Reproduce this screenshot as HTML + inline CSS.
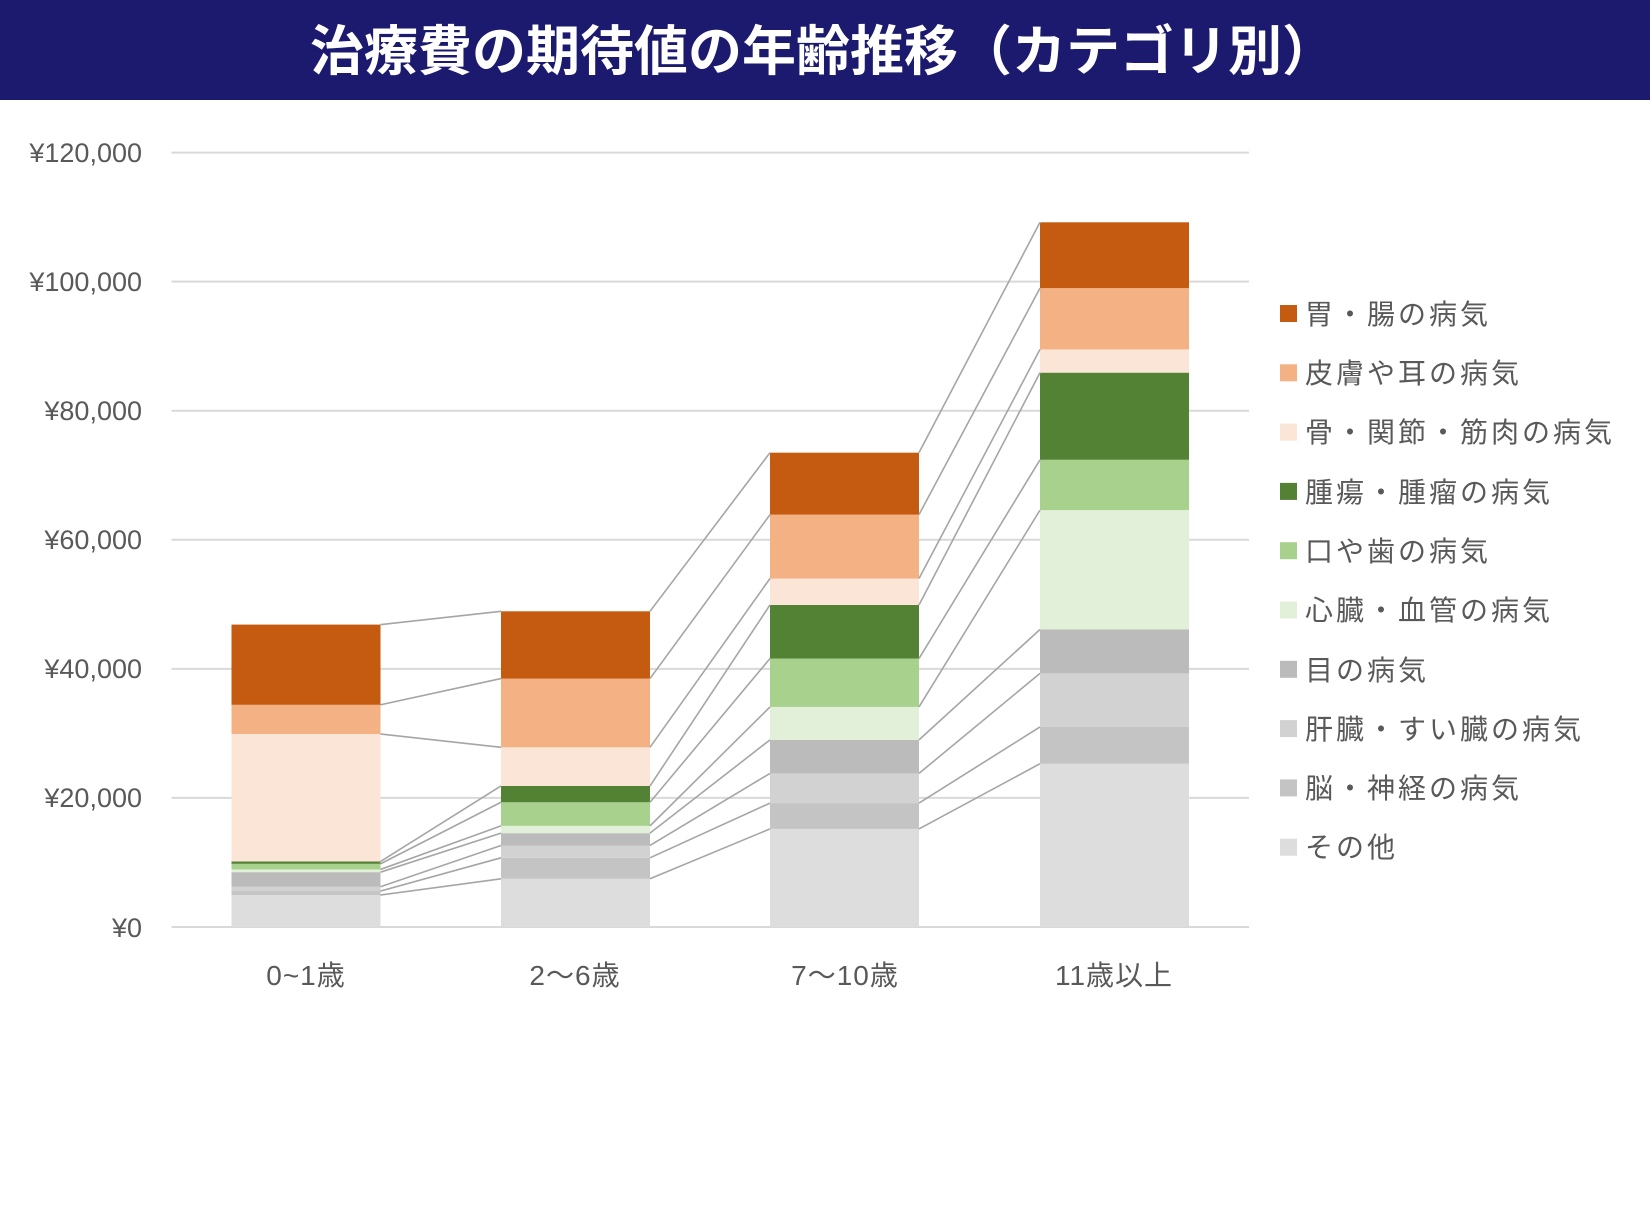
<!DOCTYPE html>
<html><head><meta charset="utf-8"><style>
html,body{margin:0;padding:0;background:#fff;}
svg{display:block;}
text{font-family:"Liberation Sans","Noto Sans CJK JP",sans-serif;}
</style></head><body>
<svg id="c" width="1650" height="1217" viewBox="0 0 1650 1217" xmlns="http://www.w3.org/2000/svg">
<rect x="0" y="0" width="1650" height="100" fill="#1B1A6E"/>
<text x="823" y="70" font-size="54" font-weight="bold" fill="#fff" text-anchor="middle" style="font-family:'Noto Sans CJK JP',sans-serif">治療費の期待値の年齢推移（カテゴリ別）</text>
<g id="grid" stroke="#D9D9D9" stroke-width="2"></g>
<g id="bars"></g>
<g id="lines" stroke="#A5A5A5" stroke-width="1.6" fill="none"></g>
<g font-size="27" fill="#595959" text-anchor="end">
<text x="142" y="162">¥120,000</text>
<text x="142" y="291">¥100,000</text>
<text x="142" y="420">¥80,000</text>
<text x="142" y="549">¥60,000</text>
<text x="142" y="678">¥40,000</text>
<text x="142" y="807">¥20,000</text>
<text x="142" y="937">¥0</text>
</g>
<g font-size="28" fill="#595959" text-anchor="middle" letter-spacing="1">
<text x="306" y="985">0~1歳</text>
<text x="575" y="985">2〜6歳</text>
<text x="845" y="985">7〜10歳</text>
<text x="1114" y="985">11歳以上</text>
</g>
<g id="leg"></g>
<g font-size="28" fill="#595959" letter-spacing="3">
<text x="1305" y="324">胃・腸の病気</text>
<text x="1305" y="383">皮膚や耳の病気</text>
<text x="1305" y="442">骨・関節・筋肉の病気</text>
<text x="1305" y="502">腫瘍・腫瘤の病気</text>
<text x="1305" y="561">口や歯の病気</text>
<text x="1305" y="620">心臓・血管の病気</text>
<text x="1305" y="680">目の病気</text>
<text x="1305" y="739">肝臓・すい臓の病気</text>
<text x="1305" y="798">脳・神経の病気</text>
<text x="1305" y="857">その他</text>
</g>
</svg>
<script>
const NS="http://www.w3.org/2000/svg";
function el(p,t,a){const e=document.createElementNS(NS,t);for(const k in a)e.setAttribute(k,a[k]);document.getElementById(p).appendChild(e);return e;}
const Y=v=>927-v*(927-152.6)/120000;
for(let i=0;i<=6;i++){const y=Y(i*20000);el('grid','line',{x1:171.5,x2:1249,y1:y,y2:y});}
const cols=["#DDDDDD","#C4C4C4","#D2D2D2","#BBBBBB","#E2F0D9","#A9D18E","#548235","#FBE5D6","#F4B183","#C55A11"];
const data=[
[4950,5570,6240,8500,8920,9790,10150,29900,34430,46860],
[7470,10720,12630,14540,15670,19330,21860,27840,38500,48920],
[15200,19200,23800,29000,34100,41600,49900,54000,63900,73500],
[25300,31000,39300,46100,64600,72400,85900,89500,99000,109200]];
const bx=[231.5,501,770,1040],bw=149;
data.forEach((d,b)=>{let prev=0;d.forEach((v,k)=>{el('bars','rect',{x:bx[b],y:Y(v),width:bw,height:Y(prev)-Y(v),fill:cols[k]});prev=v;});});
for(let b=0;b<3;b++){data[b].forEach((v,k)=>{el('lines','line',{x1:bx[b]+bw,y1:Y(v),x2:bx[b+1],y2:Y(data[b+1][k])});});}
for(let i=0;i<10;i++){el('leg','rect',{x:1280,y:305+59.3*i,width:17,height:17,fill:cols[9-i]});}
</script>
</body></html>
